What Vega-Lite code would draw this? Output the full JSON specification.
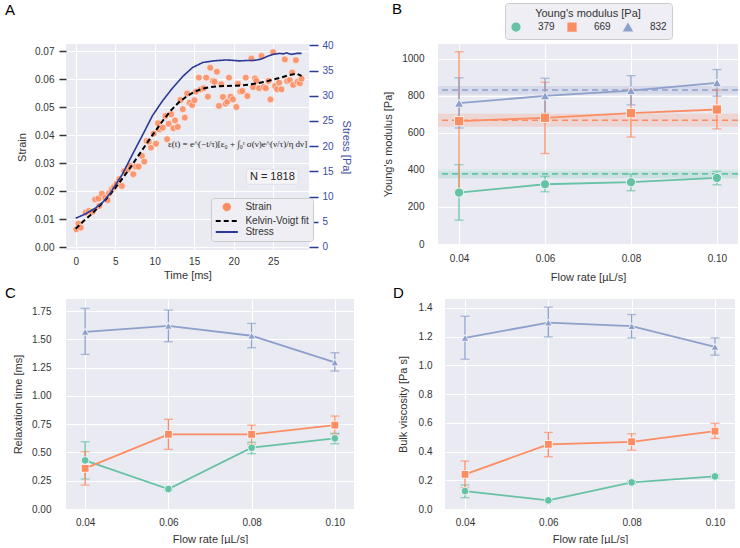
{
 "$schema": "https://vega.github.io/schema/vega-lite/v6.json",
 "background": "white",
 "padding": {"left": 5, "top": 1, "right": 0, "bottom": 0},
 "config": {
  "font": "Liberation Sans",
  "view": {"fill": "#EAEAF2", "stroke": null},
  "axis": {"domain": false, "ticks": false, "grid": true, "gridColor": "#ffffff", "gridWidth": 1.1, "labelOverlap": false, "labelFontSize": 10, "titleFontSize": 11, "titleFontWeight": "normal", "labelColor": "#333333", "titleColor": "#333333", "labelFont": "Liberation Sans", "titleFont": "Liberation Sans"},
  "legend": {"labelFont": "Liberation Sans", "titleFont": "Liberation Sans"},
  "title": {"fontSize": 15, "fontWeight": "normal", "font": "Liberation Sans", "color": "#000000", "anchor": "start", "frame": "group", "baseline": "alphabetic"}
 },
 "datasets": {
  "panelA": [
   {"series":"Strain","t":0.08,"v":0.0063},{"series":"Strain","t":0.34,"v":0.0083},{"series":"Strain","t":0.64,"v":0.0069},{"series":"Strain","t":1.27,"v":0.0123},{"series":"Strain","t":1.69,"v":0.0129},{"series":"Strain","t":2.12,"v":0.0126},{"series":"Strain","t":2.46,"v":0.0170},{"series":"Strain","t":2.88,"v":0.0173},{"series":"Strain","t":2.97,"v":0.0146},{"series":"Strain","t":3.31,"v":0.0190},{"series":"Strain","t":3.73,"v":0.0176},{"series":"Strain","t":4.03,"v":0.0167},{"series":"Strain","t":4.24,"v":0.0192},{"series":"Strain","t":4.58,"v":0.0206},{"series":"Strain","t":4.87,"v":0.0215},{"series":"Strain","t":5.17,"v":0.0226},{"series":"Strain","t":5.51,"v":0.0242},{"series":"Strain","t":5.85,"v":0.0218},{"series":"Strain","t":6.14,"v":0.0271},{"series":"Strain","t":6.57,"v":0.0277},{"series":"Strain","t":6.91,"v":0.0289},{"series":"Strain","t":7.29,"v":0.0260},{"series":"Strain","t":7.63,"v":0.0287},{"series":"Strain","t":7.97,"v":0.0287},{"series":"Strain","t":8.39,"v":0.0325},{"series":"Strain","t":8.69,"v":0.0305},{"series":"Strain","t":8.98,"v":0.0379},{"series":"Strain","t":9.24,"v":0.0376},{"series":"Strain","t":9.53,"v":0.0355},{"series":"Strain","t":9.87,"v":0.0405},{"series":"Strain","t":10.17,"v":0.0369},{"series":"Strain","t":10.42,"v":0.0442},{"series":"Strain","t":10.59,"v":0.0420},{"series":"Strain","t":11.02,"v":0.0426},{"series":"Strain","t":11.36,"v":0.0468},{"series":"Strain","t":11.57,"v":0.0385},{"series":"Strain","t":11.78,"v":0.0440},{"series":"Strain","t":12.08,"v":0.0474},{"series":"Strain","t":12.37,"v":0.0424},{"series":"Strain","t":12.58,"v":0.0452},{"series":"Strain","t":12.92,"v":0.0429},{"series":"Strain","t":13.26,"v":0.0525},{"series":"Strain","t":13.56,"v":0.0492},{"series":"Strain","t":13.81,"v":0.0462},{"series":"Strain","t":14.11,"v":0.0548},{"series":"Strain","t":14.41,"v":0.0515},{"series":"Strain","t":14.75,"v":0.0507},{"series":"Strain","t":15.04,"v":0.0524},{"series":"Strain","t":15.25,"v":0.0555},{"series":"Strain","t":15.59,"v":0.0605},{"series":"Strain","t":15.81,"v":0.0563},{"series":"Strain","t":16.19,"v":0.0567},{"series":"Strain","t":16.53,"v":0.0605},{"series":"Strain","t":16.74,"v":0.0537},{"series":"Strain","t":17.03,"v":0.0640},{"series":"Strain","t":17.37,"v":0.0593},{"series":"Strain","t":17.58,"v":0.0590},{"series":"Strain","t":17.88,"v":0.0626},{"series":"Strain","t":18.14,"v":0.0504},{"series":"Strain","t":18.43,"v":0.0581},{"series":"Strain","t":18.64,"v":0.0536},{"series":"Strain","t":18.98,"v":0.0512},{"series":"Strain","t":19.19,"v":0.0519},{"series":"Strain","t":19.41,"v":0.0605},{"series":"Strain","t":19.62,"v":0.0537},{"series":"Strain","t":19.92,"v":0.0527},{"series":"Strain","t":20.34,"v":0.0500},{"series":"Strain","t":20.55,"v":0.0583},{"series":"Strain","t":20.85,"v":0.0555},{"series":"Strain","t":21.10,"v":0.0557},{"series":"Strain","t":21.53,"v":0.0605},{"series":"Strain","t":21.74,"v":0.0539},{"series":"Strain","t":22.25,"v":0.0673},{"series":"Strain","t":22.46,"v":0.0571},{"series":"Strain","t":22.71,"v":0.0602},{"series":"Strain","t":22.88,"v":0.0593},{"series":"Strain","t":23.22,"v":0.0567},{"series":"Strain","t":23.52,"v":0.0682},{"series":"Strain","t":23.81,"v":0.0571},{"series":"Strain","t":24.07,"v":0.0567},{"series":"Strain","t":24.41,"v":0.0593},{"series":"Strain","t":24.66,"v":0.0527},{"series":"Strain","t":25.00,"v":0.0696},{"series":"Strain","t":25.25,"v":0.0575},{"series":"Strain","t":25.51,"v":0.0563},{"series":"Strain","t":25.76,"v":0.0587},{"series":"Strain","t":26.06,"v":0.0563},{"series":"Strain","t":26.48,"v":0.0670},{"series":"Strain","t":26.78,"v":0.0593},{"series":"Strain","t":27.12,"v":0.0596},{"series":"Strain","t":27.42,"v":0.0623},{"series":"Strain","t":27.54,"v":0.0579},{"series":"Strain","t":27.88,"v":0.0667},{"series":"Strain","t":28.09,"v":0.0590},{"series":"Strain","t":28.39,"v":0.0585},{"series":"Strain","t":28.60,"v":0.0601},
   {"series":"Kelvin-Voigt fit","t":0,"v":0.0065},{"series":"Kelvin-Voigt fit","t":1,"v":0.0093},{"series":"Kelvin-Voigt fit","t":2,"v":0.0117},{"series":"Kelvin-Voigt fit","t":3,"v":0.0146},{"series":"Kelvin-Voigt fit","t":4,"v":0.0176},{"series":"Kelvin-Voigt fit","t":5,"v":0.0210},{"series":"Kelvin-Voigt fit","t":6,"v":0.0248},{"series":"Kelvin-Voigt fit","t":7,"v":0.0287},{"series":"Kelvin-Voigt fit","t":8,"v":0.0329},{"series":"Kelvin-Voigt fit","t":9,"v":0.0370},{"series":"Kelvin-Voigt fit","t":10,"v":0.0411},{"series":"Kelvin-Voigt fit","t":11,"v":0.0450},{"series":"Kelvin-Voigt fit","t":12,"v":0.0486},{"series":"Kelvin-Voigt fit","t":13,"v":0.0515},{"series":"Kelvin-Voigt fit","t":14,"v":0.0537},{"series":"Kelvin-Voigt fit","t":15,"v":0.0554},{"series":"Kelvin-Voigt fit","t":16,"v":0.0565},{"series":"Kelvin-Voigt fit","t":17,"v":0.0571},{"series":"Kelvin-Voigt fit","t":18,"v":0.0574},{"series":"Kelvin-Voigt fit","t":19,"v":0.0575},{"series":"Kelvin-Voigt fit","t":20,"v":0.0576},{"series":"Kelvin-Voigt fit","t":21,"v":0.0577},{"series":"Kelvin-Voigt fit","t":22,"v":0.0580},{"series":"Kelvin-Voigt fit","t":23,"v":0.0585},{"series":"Kelvin-Voigt fit","t":24,"v":0.0590},{"series":"Kelvin-Voigt fit","t":25,"v":0.0598},{"series":"Kelvin-Voigt fit","t":26,"v":0.0605},{"series":"Kelvin-Voigt fit","t":27,"v":0.0614},{"series":"Kelvin-Voigt fit","t":28,"v":0.0619},{"series":"Kelvin-Voigt fit","t":28.6,"v":0.0611},
   {"series":"Stress","t":0,"v":5.7},{"series":"Stress","t":1.3,"v":6.6},{"series":"Stress","t":2.5,"v":7.7},{"series":"Stress","t":3.5,"v":9.0},{"series":"Stress","t":4.3,"v":10.5},{"series":"Stress","t":5.0,"v":12.2},{"series":"Stress","t":5.9,"v":14.4},{"series":"Stress","t":7.2,"v":18.4},{"series":"Stress","t":8.5,"v":22.3},{"series":"Stress","t":9.7,"v":26.0},{"series":"Stress","t":11.0,"v":29.0},{"series":"Stress","t":12.3,"v":31.6},{"series":"Stress","t":13.6,"v":33.9},{"series":"Stress","t":14.8,"v":35.6},{"series":"Stress","t":16.1,"v":36.6},{"series":"Stress","t":17.4,"v":36.9},{"series":"Stress","t":18.2,"v":37.0},{"series":"Stress","t":19.1,"v":37.1},{"series":"Stress","t":20.0,"v":37.0},{"series":"Stress","t":20.8,"v":36.9},{"series":"Stress","t":21.7,"v":37.0},{"series":"Stress","t":22.5,"v":37.0},{"series":"Stress","t":23.3,"v":37.2},{"series":"Stress","t":23.7,"v":37.4},{"series":"Stress","t":24.4,"v":37.9},{"series":"Stress","t":25.0,"v":38.2},{"series":"Stress","t":25.8,"v":38.4},{"series":"Stress","t":26.3,"v":38.3},{"series":"Stress","t":26.7,"v":38.5},{"series":"Stress","t":27.3,"v":38.2},{"series":"Stress","t":28.0,"v":38.4},{"series":"Stress","t":28.6,"v":38.4}
  ],
  "flow": [
   {"flow":0.04,"E":"379","young":278,"ylo":129,"yhi":429,"tau":0.430,"tlo":0.265,"thi":0.595,"eta":0.125,"elo":0.079,"ehi":0.167},
   {"flow":0.06,"E":"379","young":323,"ylo":282,"yhi":366,"tau":0.177,"tlo":0.167,"thi":0.187,"eta":0.060,"elo":0.055,"ehi":0.065},
   {"flow":0.08,"E":"379","young":334,"ylo":288,"yhi":378,"tau":0.542,"tlo":0.490,"thi":0.590,"eta":0.185,"elo":0.175,"ehi":0.195},
   {"flow":0.10,"E":"379","young":357,"ylo":320,"yhi":393,"tau":0.625,"tlo":0.577,"thi":0.669,"eta":0.227,"elo":0.217,"ehi":0.237},
   {"flow":0.04,"E":"669","young":664,"ylo":289,"yhi":1039,"tau":0.359,"tlo":0.212,"thi":0.507,"eta":0.241,"elo":0.148,"ehi":0.334},
   {"flow":0.06,"E":"669","young":682,"ylo":489,"yhi":874,"tau":0.660,"tlo":0.527,"thi":0.793,"eta":0.450,"elo":0.364,"ehi":0.533},
   {"flow":0.08,"E":"669","young":707,"ylo":578,"yhi":836,"tau":0.660,"tlo":0.572,"thi":0.742,"eta":0.468,"elo":0.410,"ehi":0.524},
   {"flow":0.10,"E":"669","young":727,"ylo":622,"yhi":832,"tau":0.742,"tlo":0.662,"thi":0.822,"eta":0.542,"elo":0.491,"ehi":0.596},
   {"flow":0.04,"E":"832","young":761,"ylo":627,"yhi":898,"tau":1.567,"tlo":1.367,"thi":1.774,"eta":1.191,"elo":1.043,"ehi":1.342},
   {"flow":0.06,"E":"832","young":801,"ylo":706,"yhi":896,"tau":1.620,"tlo":1.479,"thi":1.759,"eta":1.298,"elo":1.198,"ehi":1.405},
   {"flow":0.08,"E":"832","young":829,"ylo":752,"yhi":910,"tau":1.532,"tlo":1.426,"thi":1.641,"eta":1.273,"elo":1.191,"ehi":1.354},
   {"flow":0.10,"E":"832","young":871,"ylo":799,"yhi":943,"tau":1.296,"tlo":1.220,"thi":1.382,"eta":1.129,"elo":1.071,"ehi":1.191}
  ],
  "bands": [
   {"E":"379","mean":379,"lo":355,"hi":403},
   {"E":"669","mean":669,"lo":634,"hi":704},
   {"E":"832","mean":832,"lo":810,"hi":854}
  ]
 },
 "resolve": {"scale": {"color": "independent", "shape": "independent", "strokeDash": "independent"}},
 "spacing": 4,
 "vconcat": [
  {
   "hconcat": [
    {
     "width": 243, "height": 206,
     "title": {"text": "A", "dx": -61, "offset": 22},
     "data": {"name": "panelA"},
     "layer": [
      {
       "layer": [
        {
         "transform": [{"filter": "datum.series === 'Strain'"}],
         "mark": {"type": "point", "filled": true, "size": 48, "opacity": 0.88, "stroke": "white", "strokeWidth": 0.6},
         "encoding": {
          "x": {"field": "t", "type": "quantitative", "title": "Time [ms]", "scale": {"domain": [-1.23, 29.54], "nice": false, "zero": false}, "axis": {"values": [0,5,10,15,20,25], "labelPadding": 6, "titlePadding": 3}},
          "y": {"field": "v", "type": "quantitative", "title": "Strain", "scale": {"domain": [-0.00107, 0.0725], "nice": false, "zero": false}, "axis": {"values": [0,0.01,0.02,0.03,0.04,0.05,0.06,0.07], "format": ".2f", "ticks": true, "tickSize": 7, "tickWidth": 1.5, "tickColor": "#333333", "labelPadding": 5, "titlePadding": 7}},
          "color": {"field": "series", "type": "nominal", "scale": {"domain": ["Strain", "Kelvin-Voigt fit", "Stress"], "range": ["#fc8d62", "#000000", "#2a3a96"]},
           "legend": {"title": null, "orient": "none", "legendX": 145, "legendY": 154, "fillColor": "#eeeef4", "strokeColor": "#cccccc", "cornerRadius": 3, "padding": 4, "labelFontSize": 10, "labelColor": "#333333", "symbolSize": 40, "symbolStrokeWidth": 2, "symbolOpacity": 1, "labelOffset": 13.6, "symbolOffset": 6.8, "rowPadding": 1}},
          "shape": {"field": "series", "type": "nominal", "scale": {"domain": ["Strain", "Kelvin-Voigt fit", "Stress"], "range": ["circle", "M-3.5,0H3.5", "M-3.5,0H3.5"]}}
         }
        },
        {
         "transform": [{"filter": "datum.series === 'Kelvin-Voigt fit'"}],
         "mark": {"type": "line", "strokeWidth": 2},
         "encoding": {
          "x": {"field": "t", "type": "quantitative", "title": "Time [ms]", "scale": {"domain": [-1.23, 29.54], "nice": false, "zero": false}, "axis": {"values": [0,5,10,15,20,25], "labelPadding": 6, "titlePadding": 3}},
          "y": {"field": "v", "type": "quantitative", "title": "Strain", "scale": {"domain": [-0.00107, 0.0725], "nice": false, "zero": false}, "axis": {"values": [0,0.01,0.02,0.03,0.04,0.05,0.06,0.07], "format": ".2f", "ticks": true, "tickSize": 7, "tickWidth": 1.5, "tickColor": "#333333", "labelPadding": 5, "titlePadding": 7}},
          "color": {"field": "series", "type": "nominal", "scale": {"domain": ["Strain", "Kelvin-Voigt fit", "Stress"], "range": ["#fc8d62", "#000000", "#2a3a96"]},
           "legend": {"title": null, "orient": "none", "legendX": 145, "legendY": 154, "fillColor": "#eeeef4", "strokeColor": "#cccccc", "cornerRadius": 3, "padding": 4, "labelFontSize": 10, "labelColor": "#333333", "symbolSize": 40, "symbolStrokeWidth": 2, "symbolOpacity": 1, "labelOffset": 13.6, "symbolOffset": 6.8, "rowPadding": 1}},
          "strokeDash": {"field": "series", "type": "nominal", "scale": {"domain": ["Strain", "Kelvin-Voigt fit", "Stress"], "range": [[1, 0], [5, 3], [1, 0]]}}
         }
        },
        {
         "data": {"values": [{}]},
         "mark": {"type": "text", "text": "ε(t) = e^(−t/τ)[ε₀ + ∫₀ᵗ σ(ν)e^(ν/τ)/η dν]", "font": "Liberation Serif", "fontSize": 9, "color": "#222222", "align": "center", "baseline": "middle"},
         "encoding": {
          "x": {"datum": 20.5, "type": "quantitative", "title": "Time [ms]", "scale": {"domain": [-1.23, 29.54], "nice": false, "zero": false}, "axis": {"values": [0,5,10,15,20,25], "labelPadding": 6, "titlePadding": 3}},
          "y": {"datum": 0.0368, "type": "quantitative", "title": "Strain", "scale": {"domain": [-0.00107, 0.0725], "nice": false, "zero": false}, "axis": {"values": [0,0.01,0.02,0.03,0.04,0.05,0.06,0.07], "format": ".2f", "ticks": true, "tickSize": 7, "tickWidth": 1.5, "tickColor": "#333333", "labelPadding": 5, "titlePadding": 7}}
         }
        },
        {
         "data": {"values": [{}]},
         "mark": {"type": "rect", "fill": "#f5f5f8", "stroke": "#dcdce4", "strokeWidth": 0.8, "cornerRadius": 3},
         "encoding": {
          "x": {"datum": 21.6, "type": "quantitative", "title": "Time [ms]", "scale": {"domain": [-1.23, 29.54], "nice": false, "zero": false}, "axis": {"values": [0,5,10,15,20,25], "labelPadding": 6, "titlePadding": 3}},
          "x2": {"datum": 28.2},
          "y": {"datum": 0.0224, "type": "quantitative", "title": "Strain", "scale": {"domain": [-0.00107, 0.0725], "nice": false, "zero": false}, "axis": {"values": [0,0.01,0.02,0.03,0.04,0.05,0.06,0.07], "format": ".2f", "ticks": true, "tickSize": 7, "tickWidth": 1.5, "tickColor": "#333333", "labelPadding": 5, "titlePadding": 7}},
          "y2": {"datum": 0.0278}
         }
        },
        {
         "data": {"values": [{}]},
         "mark": {"type": "text", "text": "N = 1818", "fontSize": 11, "color": "#222222", "align": "center", "baseline": "middle"},
         "encoding": {
          "x": {"datum": 24.9, "type": "quantitative", "title": "Time [ms]", "scale": {"domain": [-1.23, 29.54], "nice": false, "zero": false}, "axis": {"values": [0,5,10,15,20,25], "labelPadding": 6, "titlePadding": 3}},
          "y": {"datum": 0.0251, "type": "quantitative", "title": "Strain", "scale": {"domain": [-0.00107, 0.0725], "nice": false, "zero": false}, "axis": {"values": [0,0.01,0.02,0.03,0.04,0.05,0.06,0.07], "format": ".2f", "ticks": true, "tickSize": 7, "tickWidth": 1.5, "tickColor": "#333333", "labelPadding": 5, "titlePadding": 7}}
         }
        }
       ]
      },
      {
       "transform": [{"filter": "datum.series === 'Stress'"}],
       "mark": {"type": "line", "strokeWidth": 1.6},
       "encoding": {
        "x": {"field": "t", "type": "quantitative", "title": "Time [ms]", "scale": {"domain": [-1.23, 29.54], "nice": false, "zero": false}, "axis": {"values": [0,5,10,15,20,25], "labelPadding": 6, "titlePadding": 3}},
        "y": {"field": "v", "type": "quantitative", "title": "Stress [Pa]", "scale": {"domain": [-0.6, 40.26], "nice": false, "zero": false}, "axis": {"orient": "right", "values": [0,5,10,15,20,25,30,35,40], "grid": false, "ticks": true, "tickSize": 9, "tickWidth": 1.5, "tickColor": "#2a3a96", "labelColor": "#3b4ba3", "titleColor": "#3b4ba3", "labelPadding": 4, "titlePadding": 7}},
        "color": {"field": "series", "type": "nominal", "scale": {"domain": ["Strain", "Kelvin-Voigt fit", "Stress"], "range": ["#fc8d62", "#000000", "#2a3a96"]},
         "legend": {"title": null, "orient": "none", "legendX": 145, "legendY": 154, "fillColor": "#eeeef4", "strokeColor": "#cccccc", "cornerRadius": 3, "padding": 4, "labelFontSize": 10, "labelColor": "#333333", "symbolSize": 40, "symbolStrokeWidth": 2, "symbolOpacity": 1, "labelOffset": 13.6, "symbolOffset": 6.8, "rowPadding": 1}},
        "strokeDash": {"field": "series", "type": "nominal", "scale": {"domain": ["Strain", "Kelvin-Voigt fit", "Stress"], "range": [[1, 0], [5, 3], [1, 0]]}}
       }
      }
     ],
     "resolve": {"scale": {"y": "independent"}}
    },
    {
     "width": 300, "height": 200,
     "title": {"text": "B", "dx": -46, "offset": -14},
     "encoding": {
      "color": {"field": "E", "type": "nominal", "scale": {"domain": ["379", "669", "832"], "range": ["#66c2a5", "#fc8d62", "#8da0cb"]},
       "legend": {"title": "Young's modulus [Pa]", "orient": "none", "legendX": 67, "legendY": -41, "direction": "horizontal", "titleAnchor": "middle", "titleFontSize": 11, "titleFontWeight": "normal", "titleColor": "#333333", "titlePadding": 3, "labelFontSize": 10, "labelColor": "#333333", "symbolSize": 60, "symbolOpacity": 1, "labelOffset": 17, "symbolOffset": 1, "columnPadding": 10, "padding": 5, "fillColor": "#eeeef4", "strokeColor": "#cccccc", "cornerRadius": 3}}
     },
     "layer": [
      {
       "data": {"name": "bands"},
       "mark": {"type": "rect", "opacity": 0.22},
       "encoding": {
        "y": {"field": "lo", "type": "quantitative", "title": "Young's modulus [Pa]", "scale": {"domain": [0, 1081], "nice": false, "zero": false}, "axis": {"values": [0, 200, 400, 600, 800, 1000], "format": "d", "labelPadding": 14, "titlePadding": 8}},
        "y2": {"field": "hi"}
       }
      },
      {
       "data": {"name": "bands"},
       "mark": {"type": "rule", "strokeDash": [6, 4], "strokeWidth": 1.6},
       "encoding": {
        "y": {"field": "mean", "type": "quantitative", "title": "Young's modulus [Pa]", "scale": {"domain": [0, 1081], "nice": false, "zero": false}, "axis": {"values": [0, 200, 400, 600, 800, 1000], "format": "d", "labelPadding": 14, "titlePadding": 8}}
       }
      },
      {
       "data": {"name": "flow"},
       "mark": {"type": "errorbar", "ticks": {"size": 9}, "thickness": 1.3},
       "encoding": {
        "x": {"field": "flow", "type": "quantitative", "title": "Flow rate [µL/s]", "scale": {"domain": [0.0351, 0.1049], "nice": false, "zero": false}, "axis": {"values": [0.04, 0.06, 0.08, 0.1], "format": ".2f", "labelPadding": 9, "titlePadding": 8}},
        "y": {"field": "ylo", "type": "quantitative", "title": "Young's modulus [Pa]", "scale": {"domain": [0, 1081], "nice": false, "zero": false}, "axis": {"values": [0, 200, 400, 600, 800, 1000], "format": "d", "labelPadding": 14, "titlePadding": 8}},
        "y2": {"field": "yhi"}
       }
      },
      {
       "data": {"name": "flow"},
       "mark": {"type": "line", "strokeWidth": 1.8},
       "encoding": {
        "x": {"field": "flow", "type": "quantitative", "title": "Flow rate [µL/s]", "scale": {"domain": [0.0351, 0.1049], "nice": false, "zero": false}, "axis": {"values": [0.04, 0.06, 0.08, 0.1], "format": ".2f", "labelPadding": 9, "titlePadding": 8}},
        "y": {"field": "young", "type": "quantitative", "title": "Young's modulus [Pa]", "scale": {"domain": [0, 1081], "nice": false, "zero": false}, "axis": {"values": [0, 200, 400, 600, 800, 1000], "format": "d", "labelPadding": 14, "titlePadding": 8}}
       }
      },
      {
       "data": {"name": "flow"},
       "mark": {"type": "point", "filled": true, "size": 85, "opacity": 1, "stroke": "white", "strokeWidth": 0.8},
       "encoding": {
        "x": {"field": "flow", "type": "quantitative", "title": "Flow rate [µL/s]", "scale": {"domain": [0.0351, 0.1049], "nice": false, "zero": false}, "axis": {"values": [0.04, 0.06, 0.08, 0.1], "format": ".2f", "labelPadding": 9, "titlePadding": 8}},
        "y": {"field": "young", "type": "quantitative", "title": "Young's modulus [Pa]", "scale": {"domain": [0, 1081], "nice": false, "zero": false}, "axis": {"values": [0, 200, 400, 600, 800, 1000], "format": "d", "labelPadding": 14, "titlePadding": 8}},
        "shape": {"field": "E", "type": "nominal", "scale": {"domain": ["379", "669", "832"], "range": ["circle", "square", "triangle-up"]}}
       }
      }
     ]
    }
   ],
   "spacing": 129,
   "bounds": "flush",
   "resolve": {"scale": {"color": "independent", "shape": "independent", "strokeDash": "independent"}}
  },
  {
   "hconcat": [
    {
     "width": 288, "height": 210,
     "title": {"text": "C", "dx": -61, "offset": -2},
     "data": {"name": "flow"},
     "encoding": {
      "x": {"field": "flow", "type": "quantitative", "title": "Flow rate [µL/s]", "scale": {"domain": [0.0354, 0.1046], "nice": false, "zero": false}, "axis": {"values": [0.04, 0.06, 0.08, 0.1], "format": ".2f", "labelPadding": 8, "titlePadding": 6}},
      "color": {"field": "E", "type": "nominal", "scale": {"domain": ["379", "669", "832"], "range": ["#66c2a5", "#fc8d62", "#8da0cb"]}, "legend": null}
     },
     "layer": [
      {
       "mark": {"type": "errorbar", "ticks": {"size": 9}, "thickness": 1.3},
       "encoding": {
        "y": {"field": "tlo", "type": "quantitative", "title": "Relaxation time [ms]", "scale": {"domain": [0, 1.857], "nice": false, "zero": false}, "axis": {"values": [0, 0.25, 0.5, 0.75, 1, 1.25, 1.5, 1.75], "format": ".2f", "labelPadding": 15, "titlePadding": 8}},
        "y2": {"field": "thi"}
       }
      },
      {
       "mark": {"type": "line", "strokeWidth": 1.8},
       "encoding": {
        "y": {"field": "tau", "type": "quantitative", "title": "Relaxation time [ms]", "scale": {"domain": [0, 1.857], "nice": false, "zero": false}, "axis": {"values": [0, 0.25, 0.5, 0.75, 1, 1.25, 1.5, 1.75], "format": ".2f", "labelPadding": 15, "titlePadding": 8}}
       }
      },
      {
       "mark": {"type": "point", "filled": true, "size": 60, "opacity": 1, "stroke": "white", "strokeWidth": 0.8},
       "encoding": {
        "y": {"field": "tau", "type": "quantitative", "title": "Relaxation time [ms]", "scale": {"domain": [0, 1.857], "nice": false, "zero": false}, "axis": {"values": [0, 0.25, 0.5, 0.75, 1, 1.25, 1.5, 1.75], "format": ".2f", "labelPadding": 15, "titlePadding": 8}},
        "shape": {"field": "E", "type": "nominal", "scale": {"domain": ["379", "669", "832"], "range": ["circle", "square", "triangle-up"]}, "legend": null}
       }
      }
     ]
    },
    {
     "width": 290, "height": 210,
     "title": {"text": "D", "dx": -52, "offset": -2},
     "data": {"name": "flow"},
     "encoding": {
      "x": {"field": "flow", "type": "quantitative", "title": "Flow rate [µL/s]", "scale": {"domain": [0.0352, 0.1048], "nice": false, "zero": false}, "axis": {"values": [0.04, 0.06, 0.08, 0.1], "format": ".2f", "labelPadding": 8, "titlePadding": 6}},
      "color": {"field": "E", "type": "nominal", "scale": {"domain": ["379", "669", "832"], "range": ["#66c2a5", "#fc8d62", "#8da0cb"]}, "legend": null}
     },
     "layer": [
      {
       "mark": {"type": "errorbar", "ticks": {"size": 9}, "thickness": 1.3},
       "encoding": {
        "y": {"field": "elo", "type": "quantitative", "title": "Bulk viscosity [Pa s]", "scale": {"domain": [0, 1.462], "nice": false, "zero": false}, "axis": {"values": [0, 0.2, 0.4, 0.6, 0.8, 1, 1.2, 1.4], "format": ".1f", "labelPadding": 13, "titlePadding": 10}},
        "y2": {"field": "ehi"}
       }
      },
      {
       "mark": {"type": "line", "strokeWidth": 1.8},
       "encoding": {
        "y": {"field": "eta", "type": "quantitative", "title": "Bulk viscosity [Pa s]", "scale": {"domain": [0, 1.462], "nice": false, "zero": false}, "axis": {"values": [0, 0.2, 0.4, 0.6, 0.8, 1, 1.2, 1.4], "format": ".1f", "labelPadding": 13, "titlePadding": 10}}
       }
      },
      {
       "mark": {"type": "point", "filled": true, "size": 60, "opacity": 1, "stroke": "white", "strokeWidth": 0.8},
       "encoding": {
        "y": {"field": "eta", "type": "quantitative", "title": "Bulk viscosity [Pa s]", "scale": {"domain": [0, 1.462], "nice": false, "zero": false}, "axis": {"values": [0, 0.2, 0.4, 0.6, 0.8, 1, 1.2, 1.4], "format": ".1f", "labelPadding": 13, "titlePadding": 10}},
        "shape": {"field": "E", "type": "nominal", "scale": {"domain": ["379", "669", "832"], "range": ["circle", "square", "triangle-up"]}, "legend": null}
       }
      }
     ]
    }
   ],
   "spacing": 91,
   "bounds": "flush",
   "resolve": {"scale": {"color": "independent", "shape": "independent"}}
  }
 ]
}
